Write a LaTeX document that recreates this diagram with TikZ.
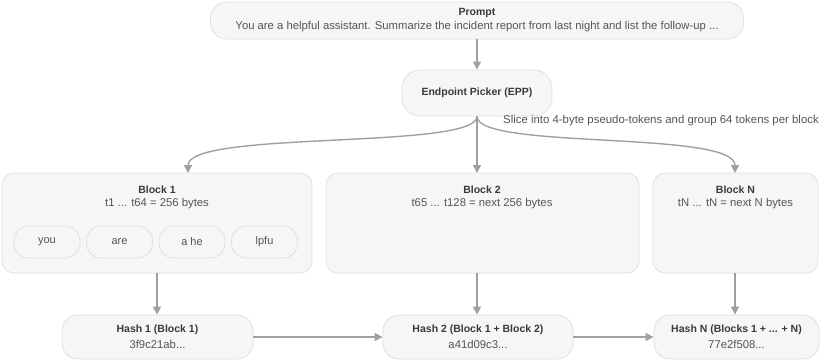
\documentclass[tikz,border=0pt]{standalone}
\usepackage{fontspec}
\setmainfont{Liberation Sans}
\usetikzlibrary{arrows.meta}
\definecolor{boxfill}{HTML}{F6F6F6}
\definecolor{boxline}{HTML}{E0E0E0}
\definecolor{titlecol}{HTML}{3A3A3A}
\definecolor{subcol}{HTML}{555555}
\definecolor{arrcol}{HTML}{A0A0A0}
\tikzset{
  box/.style={draw=boxline, fill=boxfill, line width=0.8pt, rounded corners=12pt, inner sep=0pt},
  pill/.style={box, rounded corners=16pt},
  tok/.style={draw=boxline, fill=boxfill, line width=0.8pt, rounded corners=15pt, minimum width=66pt, minimum height=32pt, inner sep=0pt, font=\fontsize{11}{13}\selectfont, text=subcol},
  ttl/.style={font=\fontsize{10.5}{12}\selectfont\bfseries, text=titlecol, inner sep=0pt},
  sub/.style={font=\fontsize{11.3}{13}\selectfont, text=subcol, inner sep=0pt},
  arr/.style={draw=arrcol, line width=1.4pt, -{Triangle[length=8pt,width=8pt]}},
}
\begin{document}
\begin{tikzpicture}[x=1pt,y=-1pt]
\useasboundingbox (0,0) rectangle (820,360);
% Prompt
\node[pill, minimum width=533pt, minimum height=37pt] (prompt) at (477,20.5) {};
\node[ttl] (promptt) at (477,12.5) {Prompt};
\node[sub] (prompts) at (477,27) {You are a helpful assistant. Summarize the incident report from last night and list the follow-up ...};
% EPP
\node[box, rounded corners=18pt, minimum width=150pt, minimum height=46pt] (epp) at (477,93) {};
\node[ttl] (eppt) at (477,93) {Endpoint Picker (EPP)};
\node[sub, anchor=west, font=\fontsize{11.4}{13}\selectfont] (slice) at (503,121) {Slice into 4-byte pseudo-tokens and group 64 tokens per block};
% Blocks
\node[box, minimum width=310pt, minimum height=100pt] (b1) at (157,223) {};
\node[ttl] (b1t) at (157,189.5) {Block 1};
\node[sub] (b1s) at (157,203.5) {t1 ... t64 = 256 bytes};
\node[tok] (k1) at (47,242) {you};
\node[tok] (k2) at (119.5,242) {are};
\node[tok] (k3) at (192,242) {a he};
\node[tok] (k4) at (264.5,242) {lpfu};
\node[box, minimum width=313pt, minimum height=100pt] (b2) at (482.5,223) {};
\node[ttl] (b2t) at (482,189.5) {Block 2};
\node[sub] (b2s) at (482,203.5) {t65 ... t128 = next 256 bytes};
\node[box, minimum width=165pt, minimum height=100pt] (bn) at (735.5,223) {};
\node[ttl] (bnt) at (735.5,189.5) {Block N};
\node[sub] (bns) at (735.5,203.5) {tN ... tN = next N bytes};
% Hashes
\node[pill, minimum width=191pt, minimum height=44pt] (h1) at (157.5,337) {};
\node[ttl] (h1t) at (157.5,330) {Hash 1 (Block 1)};
\node[sub] (h1s) at (157.5,344) {3f9c21ab...};
\node[pill, minimum width=190pt, minimum height=44pt] (h2) at (478,337) {};
\node[ttl] (h2t) at (478,330) {Hash 2 (Block 1 + Block 2)};
\node[sub] (h2s) at (478,344) {a41d09c3...};
\node[pill, minimum width=165pt, minimum height=44pt] (hn) at (736.5,337) {};
\node[ttl] (hnt) at (736.5,330) {Hash N (Blocks 1 + ... + N)};
\node[sub] (hns) at (736.5,344) {77e2f508...};
% Connectors
\coordinate (eppb) at (epp.south);
\coordinate (b1in) at (188,173);
\coordinate (b2in) at (477,173);
\coordinate (bnin) at (735,173);
\draw[arr] (prompt.south) -- (epp.north);
\draw[arr] (eppb) .. controls (477,150) and (188,130) .. (b1in);
\draw[arr] (eppb) -- (b2in);
\draw[arr] (eppb) .. controls (477,150) and (735,130) .. (bnin);
\draw[arr] (b1.south -| 157,0) -- (h1.north -| 157,0);
\draw[arr] (b2.south -| 477,0) -- (h2.north -| 477,0);
\draw[arr] (bn.south -| 735,0) -- (hn.north -| 735,0);
\draw[arr] (h1.east) -- (h2.west);
\draw[arr] (h2.east) -- (hn.west);
\end{tikzpicture}
\end{document}
